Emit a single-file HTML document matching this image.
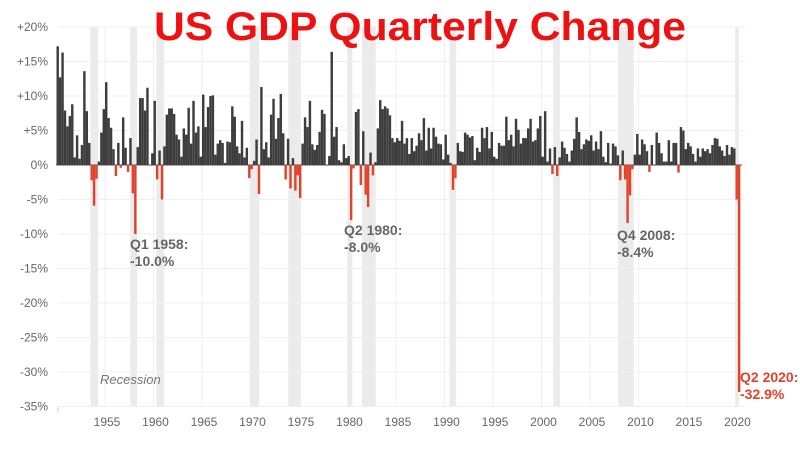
<!DOCTYPE html>
<html><head><meta charset="utf-8"><style>
html,body{margin:0;padding:0;background:#fff;}
svg{display:block;font-family:"Liberation Sans",sans-serif;}
</style></head><body>
<svg id="chart" width="800" height="450" viewBox="0 0 800 450" xmlns="http://www.w3.org/2000/svg">
<g id="bands"></g>
<g id="grid"></g>
<g id="bars"></g>
<g id="axes"></g>
<text x="420" y="40" text-anchor="middle" font-size="40" font-weight="bold" fill="#ee1111" textLength="532" lengthAdjust="spacingAndGlyphs">US GDP Quarterly Change</text>
<text x="100" y="384" font-size="13" font-style="italic" fill="#777">Recession</text>
<g font-size="14" font-weight="bold" fill="#666">
<text x="130" y="249">Q1 1958:</text><text x="130" y="266">-10.0%</text></g>
<g font-size="14" font-weight="bold" fill="#666">
<text x="344" y="235">Q2 1980:</text><text x="344" y="252">-8.0%</text></g>
<g font-size="14" font-weight="bold" fill="#666">
<text x="617" y="240">Q4 2008:</text><text x="617" y="257">-8.4%</text></g>
<g font-size="14" font-weight="bold" fill="#e0432b">
<text x="740" y="382">Q2 2020:</text><text x="740" y="399">-32.9%</text></g>
</svg>
<script>
const startYear = 1950;
const gdpValues = [
17.2,12.7,16.3,7.9, 5.6,7.1,8.8,1.1, 4.3,0.9,2.9,13.6, 7.8,3.2,-2.2,-5.9,
-2.0,0.5,4.7,8.1, 12.0,6.8,5.4,2.3, -1.6,3.2,-0.4,6.9, 2.5,-1.0,3.9,-4.1,
-10.0,2.6,9.7,9.7, 7.9,11.2,-0.1,1.7, 9.3,-2.1,2.1,-5.0, 2.7,7.3,8.2,8.2,
7.4,4.4,3.7,1.2, 5.3,4.4,8.3,3.1, 9.3,4.7,5.6,1.2, 10.2,5.5,8.4,10.0,
10.1,1.5,3.1,3.6, 3.2,0.3,3.4,3.3, 8.5,7.0,2.7,1.7, 6.4,1.1,2.5,-1.9,
-0.6,0.6,3.7,-4.2, 11.3,2.3,3.3,1.1, 7.3,9.6,3.8,6.8, 10.3,4.6,-2.1,3.8,
-3.4,1.0,-3.7,-1.5, -4.8,3.1,6.9,5.5, 9.3,3.0,2.2,2.9, 4.8,8.0,7.4,0.0,
1.3,16.4,4.1,5.5, 0.7,0.4,3.0,1.0, 1.3,-8.0,-0.5,7.7, 8.1,-2.9,4.9,-4.3,
-6.1,1.8,-1.5,0.4, 5.3,9.4,8.1,8.5, 8.2,7.2,3.9,3.3, 3.9,3.5,6.4,3.1,
3.9,1.6,3.9,2.0, 2.8,4.6,3.6,6.8, 2.1,5.4,2.4,5.4, 4.1,3.1,3.0,0.8,
4.4,1.5,0.3,-3.6, -1.9,3.2,2.0,1.9, 4.7,4.4,4.0,4.2, 0.7,2.5,1.9,5.4,
3.9,5.5,2.4,4.8, 1.2,0.9,3.2,2.8, 2.8,7.0,3.6,4.4, 2.7,6.7,5.1,3.1,
3.9,3.9,5.3,6.7, 3.4,3.6,5.3,7.1, 1.2,7.8,0.5,2.4, -1.3,2.6,-1.6,1.1,
3.4,2.5,1.6,0.5, 2.1,3.8,6.9,4.8, 2.3,3.0,3.7,3.5, 4.3,2.1,3.4,2.3,
4.9,1.2,0.4,3.2, 0.2,3.1,2.7,1.4, -2.2,2.1,-2.1,-8.4, -4.4,-0.6,1.5,4.5,
1.5,3.7,3.0,2.0, -1.0,2.9,-0.1,4.7, 3.2,1.7,0.5,0.5, 3.6,0.5,3.2,3.2,
-1.1,5.5,5.0,2.3, 3.2,2.7,1.6,0.5, 2.4,1.2,2.4,2.0, 2.3,1.7,2.9,3.9,
3.8,2.7,2.1,1.3, 2.9,1.5,2.6,2.4, -5.0,-32.9
];
const recessionStarts = [1953.5,1957.6,1960.3,1969.9,1973.9,1980.0,1981.5,1990.5,2001.2,2007.9,2020.05];
const recessionEnds   = [1954.3,1958.3,1961.1,1970.9,1975.2,1980.5,1982.9,1991.2,2001.9,2009.5,2020.35];
const yTicks = [20,15,10,5,0,-5,-10,-15,-20,-25,-30,-35];
const yTickLabels = ["+20%","+15%","+10%","+5%","0%","-5%","-10%","-15%","-20%","-25%","-30%","-35%"];
const xTicks = [1955,1960,1965,1970,1975,1980,1985,1990,1995,2000,2005,2010,2015,2020];

const NS="http://www.w3.org/2000/svg";
function xs(year){return 105+(year-1955)*9.7;}
function ys(v){return 165-v*6.9;}
function mk(tag,attrs,parent){const e=document.createElementNS(NS,tag);for(const k in attrs)e.setAttribute(k,attrs[k]);parent.appendChild(e);return e;}
const gB=document.getElementById('bands'),gG=document.getElementById('grid'),gBar=document.getElementById('bars'),gA=document.getElementById('axes');
const plotTop=ys(20),plotBot=ys(-35);
recessionStarts.forEach((s,i)=>{
  const r=mk('rect',{x:xs(s),y:plotTop,width:xs(recessionEnds[i])-xs(s),height:plotBot-plotTop,fill:'#ebebeb'},gB);
  
  
});
yTicks.forEach((t,i)=>{
  const l=mk('line',{x1:58,x2:745,y1:ys(t),y2:ys(t),stroke:'#efefef','stroke-width':1},gG);
  
  
  const tx=mk('text',{x:48,y:ys(t)+4,'text-anchor':'end','font-size':12,fill:'#666'},gA);
  tx.textContent=yTickLabels[i];
  
  
});
xTicks.forEach(t=>{
  const l=mk('line',{x1:xs(t),x2:xs(t),y1:plotTop,y2:plotBot,stroke:'#efefef','stroke-width':1},gG);
  
  
  const tx=mk('text',{x:xs(t)+2,y:426,'text-anchor':'middle','font-size':12,fill:'#666'},gA);
  tx.textContent=String(t);
  
  
});
const ax=mk('line',{x1:58,x2:58,y1:plotBot,y2:plotBot+6,stroke:'#ccc'},gA);


const zl=mk('line',{x1:56,x2:742,y1:ys(0),y2:ys(0),stroke:'#555','stroke-width':1},gBar);


const w=9.7/4;
gdpValues.forEach((v,i)=>{
  const yr=startYear+i/4;
  const y0=ys(Math.max(v,0)),h=Math.abs(ys(v)-ys(0));
  const r=mk('rect',{x:xs(yr),y:y0,width:w,height:Math.max(h,0.5),fill:v<0?'#e0432b':'#3d3d3d'},gBar);
  
  
});
</script>
</body></html>
